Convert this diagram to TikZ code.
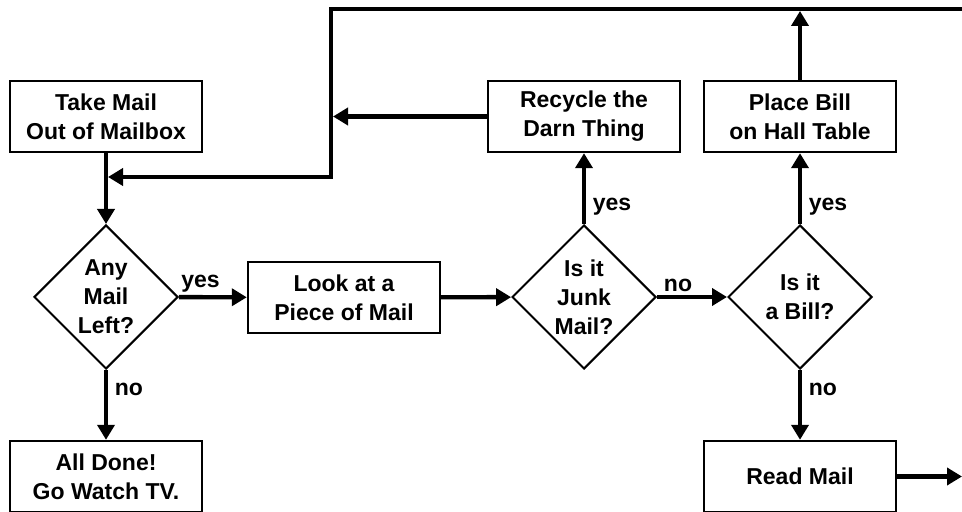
\documentclass[tikz,border=0pt]{standalone}
\usepackage{fontspec}
\setmainfont{Liberation Sans}
\usetikzlibrary{shapes.geometric,arrows.meta}

\tikzset{
  txt/.style={font=\bfseries\fontsize{11.5}{14.5}\selectfont},
  box/.style={txt,draw,line width=1.2pt,align=center,inner sep=0pt,
    minimum width=96pt,minimum height=35.5pt},
  ask/.style={txt,draw,diamond,aspect=1,line width=1pt,align=center,inner sep=0pt,
    minimum width=72pt,minimum height=72pt},
  flow/.style={line width=2.2pt,-{Triangle[length=7.5pt,width=8.5pt]}},
}

\begin{document}
\begin{tikzpicture}[x=0.5pt,y=-0.5pt]
  \useasboundingbox (0,0) rectangle (962,512);

  \node[box] (MB)    at (106,116.5) {Take Mail\\Out of Mailbox};
  \node[box] (RCY)   at (584,116.5) {Recycle the\\Darn Thing};
  \node[box] (PLACE) at (800,116.5) {Place Bill\\on Hall Table};
  \node[ask] (ANY)   at (106,297)   {Any\\Mail\\Left?};
  \node[box] (LOOK)  at (344,297.5) {Look at a\\Piece of Mail};
  \node[ask] (JUNK)  at (584,297)   {Is it\\Junk\\Mail?};
  \node[ask] (BILL)  at (800,297)   {Is it\\a Bill?};
  \node[box] (DONE)  at (106,476.5) {All Done!\\Go Watch TV.};
  \node[box] (READ)  at (800,476.5) {Read Mail};

  \coordinate (TR)  at (962,9);
  \coordinate (TL)  at (331,9);
  \coordinate (CNR) at (331,177);
  \coordinate (J1)  at (108,177);
  \coordinate (J2)  at (333,116.5);
  \coordinate (T2)  at (800,11);
  \coordinate (OUT) at (962,476.5);

  \draw[flow] (MB) -- (ANY);
  \path[flow] (ANY)  edge node[txt,above,inner sep=1.5pt,pos=0.32] {yes} (LOOK);
  \path[flow] (ANY)  edge node[txt,right,pos=0.28] {no}  (DONE);
  \path[flow] (LOOK) edge (JUNK);
  \path[flow] (JUNK) edge node[txt,above,inner sep=1.5pt,pos=0.3]  {no}  (BILL);
  \path[flow] (JUNK) edge node[txt,right,pos=0.25] {yes} (RCY);
  \path[flow] (BILL) edge node[txt,right,pos=0.25] {yes} (PLACE);
  \path[flow] (BILL) edge node[txt,right,pos=0.28] {no}  (READ);

  \path[flow] (RCY)   edge (J2);
  \path[flow] (PLACE) edge (T2);
  \path[flow] (READ)  edge (OUT);

  % loop back to the mailbox
  \draw[flow] (TR) -- (TL) -- (CNR) -- (J1);
\end{tikzpicture}
\end{document}
